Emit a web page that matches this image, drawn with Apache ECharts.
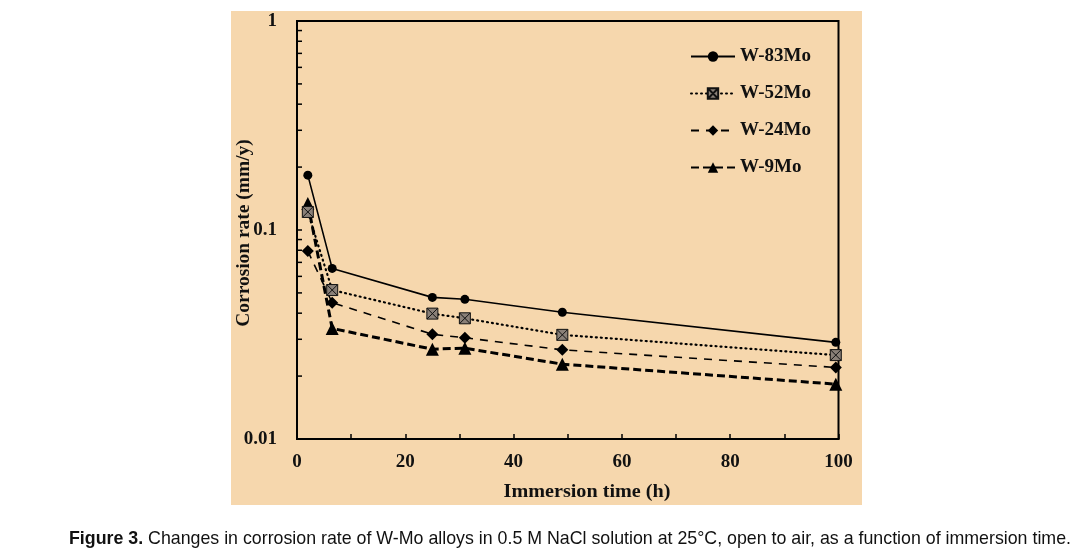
<!DOCTYPE html>
<html>
<head>
<meta charset="utf-8">
<script src="https://cdn.jsdelivr.net/npm/echarts@6/dist/echarts.min.js"></script>
<style>
html,body{margin:0;padding:0;background:#fff;}
#chart{width:1082px;height:558px;}
</style>
</head>
<body>
<div id="chart"></div>
<script>
// ---- data ----
const timeH = [2, 6.5, 25, 31, 49, 99.5];
const seriesNames = ['W-83Mo', 'W-52Mo', 'W-24Mo', 'W-9Mo'];
const w83Mo = [0.183, 0.0655, 0.0476, 0.0466, 0.0404, 0.0290];
const w52Mo = [0.122, 0.0516, 0.0398, 0.0378, 0.0315, 0.0252];
const w24Mo = [0.0793, 0.0449, 0.0317, 0.0305, 0.0267, 0.0220];
const w9Mo  = [0.134, 0.0338, 0.0269, 0.0272, 0.0228, 0.0183];
const yTickValues = [0.01,0.02,0.03,0.04,0.05,0.06,0.07,0.08,0.09,0.1,0.2,0.3,0.4,0.5,0.6,0.7,0.8,0.9,1];
const yLabels = {'1':'1','0.1':'0.1','0.01':'0.01'};
const xTitle = 'Immersion time (h)';
const yTitle = 'Corrosion rate (mm/y)';
const captionBold = 'Figure 3.';
const captionText = ' Changes in corrosion rate of W-Mo alloys in 0.5 M NaCl solution at 25°C, open to air, as a function of immersion time.';

const pair = arr => timeH.map((t, i) => [t, arr[i]]);
const serif = '"Liberation Serif", "Times New Roman", serif';
const capFont = '"Liberation Sans Narrow", "Arial Narrow", "Liberation Sans", sans-serif';

const chart = echarts.init(document.getElementById('chart'), null, {renderer: 'canvas'});
const option = {
  animation: false,
  backgroundColor: '#ffffff',
  grid: {left: 297, top: 21, right: 243.5, bottom: 119, show: true, borderColor: '#000', borderWidth: 2, backgroundColor: 'transparent'},
  xAxis: {
    type: 'value', min: 0, max: 100, interval: 10,
    axisLine: {lineStyle: {color: '#000', width: 2}},
    axisTick: {inside: true, length: 5, lineStyle: {color: '#000', width: 1.5}},
    splitLine: {show: false},
    axisLabel: {color: '#111', fontFamily: serif, fontWeight: 'bold', fontSize: 19, margin: 14,
      formatter: v => (v % 20 === 0 ? String(v) : '')}
  },
  yAxis: {
    type: 'log', logBase: 10, min: 0.01, max: 1,
    axisLine: {lineStyle: {color: '#000', width: 2}},
    axisTick: {show: false},
    splitLine: {show: false},
    axisLabel: {color: '#111', fontFamily: serif, fontWeight: 'bold', fontSize: 19, margin: 20,
      formatter: v => yLabels[String(+v.toPrecision(3))] || ''}
  },
  legend: {
    data: seriesNames, orient: 'vertical', left: 690, top: 47, padding: 0,
    itemWidth: 44, itemHeight: 13, itemGap: 18,
    textStyle: {color: '#111', fontFamily: serif, fontWeight: 'bold', fontSize: 19, padding: [0, 0, 0, 0]}
  },
  graphic: [
    {type: 'rect', z: -10, shape: {x: 231, y: 11, width: 631, height: 494}, style: {fill: '#F6D7AD'}, silent: true},
    {type: 'text', x: 587, y: 492, scaleX: 1.12, style: {text: xTitle, fill: '#111', font: 'bold 18px ' + serif, textAlign: 'center', textVerticalAlign: 'middle'}},
    {type: 'text', x: 244, y: 233, rotation: Math.PI / 2, scaleX: 1.08, style: {text: yTitle, fill: '#111', font: 'bold 18px ' + serif, textAlign: 'center', textVerticalAlign: 'middle'}},
    {type: 'text', x: 69, y: 539, style: {
      text: '{b|' + captionBold + '}{r|' + captionText + '}',
      textVerticalAlign: 'middle',
      rich: {
        b: {fontFamily: capFont, fontWeight: 'bold', fontSize: 17.8, fill: '#111'},
        r: {fontFamily: capFont, fontSize: 17.8, fill: '#111'}
      }
    }}
  ],
  series: [
    {name: 'W-83Mo', type: 'line', data: pair(w83Mo), symbol: 'circle', symbolSize: 9,
      itemStyle: {color: '#000'}, lineStyle: {color: '#000', width: 1.6, type: 'solid'}, z: 5},
    {name: 'W-52Mo', type: 'line', data: pair(w52Mo),
      symbol: 'path://M0,0H10V10H0Z M0,0L10,10 M10,0L0,10', symbolSize: 11,
      itemStyle: {color: '#8a8078', borderColor: '#111', borderWidth: 1},
      lineStyle: {color: '#000', width: 2.2, type: [1, 4], cap: 'round'}, z: 4},
    {name: 'W-24Mo', type: 'line', data: pair(w24Mo), symbol: 'diamond', symbolSize: 12,
      itemStyle: {color: '#000'}, lineStyle: {color: '#000', width: 1.6, type: [8, 7]}, z: 3},
    {name: 'W-9Mo', type: 'line', data: pair(w9Mo), symbol: 'triangle', symbolSize: 13,
      itemStyle: {color: '#000'}, lineStyle: {color: '#000', width: 3, type: [8, 4]}, z: 2},
    {name: 'yticks', type: 'custom', silent: true, clip: false, z: 6,
      data: yTickValues.map(v => [0, v]),
      renderItem: function (params, api) {
        const p = api.coord([0, api.value(1)]);
        return {type: 'line', shape: {x1: p[0], y1: p[1], x2: p[0] + 5, y2: p[1]},
          style: {stroke: '#000', lineWidth: 1.5}};
      }}
  ]
};
chart.setOption(option);
</script>
</body>
</html>
